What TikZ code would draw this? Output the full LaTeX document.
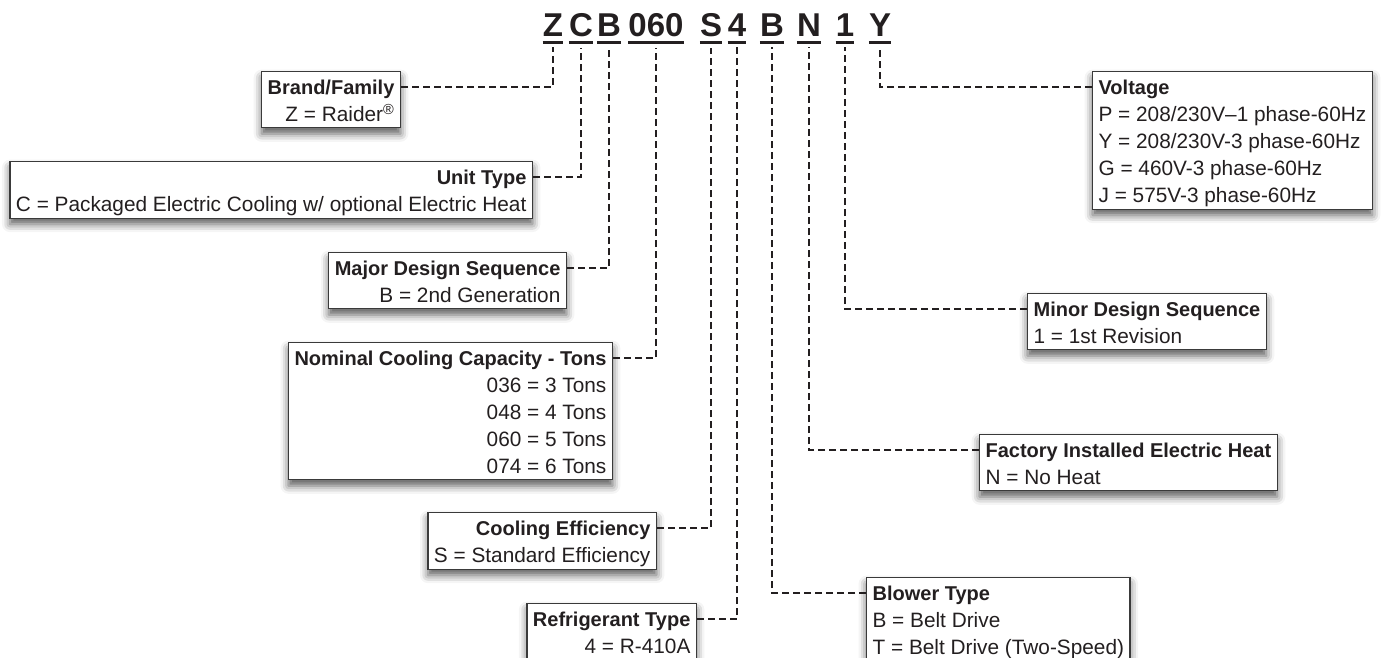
\documentclass[tikz,border=0pt]{standalone}
\usepackage{fontspec}
\setmainfont{Liberation Sans}
\usetikzlibrary{shadows.blur}
\definecolor{ink}{HTML}{231F20}
\definecolor{frame}{HTML}{3A3A3A}
\newcommand\boxhead[1]{\rule{0pt}{21.2pt}{\fontsize{20}{27}\selectfont\bfseries #1}}
\newcommand\boxfoot{\rule[-4pt]{0pt}{4pt}}

\tikzset{
	codechar/.style={font=\fontsize{33}{33}\selectfont\bfseries, text=ink, inner sep=0pt, anchor=base},
	uline/.style={line width=3pt, ink},
	infobox/.style={draw=frame, line width=1.2pt, fill=white, inner xsep=6pt, inner ysep=2pt,
		font=\fontsize{20.8}{27}\selectfont, text=ink,
		blur shadow={shadow xshift=0pt, shadow yshift=-6pt, shadow blur radius=8pt, shadow opacity=65}},
	leftbox/.style={infobox, align=right, anchor=north east},
	rightbox/.style={infobox, align=left, anchor=north west},
	leader/.style={line width=2.4pt, ink, dash pattern=on 7pt off 4pt},
}

\begin{document}
\begin{tikzpicture}[x=1pt, y=-1pt]
	\useasboundingbox (0,0) rectangle (1384,658);

	% model number
	\node[codechar] (cZ) at (553, 37) {Z};
	\node[codechar] (cC) at (581, 37) {C};
	\node[codechar] (cB) at (609, 37) {B};
	\node[codechar] (cTons) at (656, 37) {060};
	\node[codechar] (cS) at (711, 37) {S};
	\node[codechar] (cFour) at (737, 37) {4};
	\node[codechar] (cBlow) at (772, 37) {B};
	\node[codechar] (cN) at (809, 37) {N};
	\node[codechar] (cOne) at (845, 37) {1};
	\node[codechar] (cY) at (880, 37) {Y};
	\foreach \c in {cZ, cC, cB, cTons, cS, cFour, cBlow, cN, cOne, cY}
		\draw[uline] ([yshift=-5pt]\c.south west) -- ([yshift=-5pt]\c.south east);

	% left side
	\node[leftbox] (brand) at (401, 71) {\boxhead{Brand/Family}\\ Z = Raider\textsuperscript{®}\boxfoot};
	\node[leftbox] (unit) at (533, 161) {\boxhead{Unit Type}\\ C = Packaged Electric Cooling w/ optional Electric Heat\boxfoot};
	\node[leftbox] (major) at (567, 252) {\boxhead{Major Design Sequence}\\ B = 2nd Generation\boxfoot};
	\node[leftbox] (tons) at (613, 342) {\boxhead{Nominal Cooling Capacity - Tons}\\ 036 = 3 Tons\\ 048 = 4 Tons\\ 060 = 5 Tons\\ 074 = 6 Tons\boxfoot};
	\node[leftbox] (eff) at (657, 512) {\boxhead{Cooling Efficiency}\\ S = Standard Efficiency\boxfoot};
	\node[leftbox] (refr) at (697, 603) {\boxhead{Refrigerant Type}\\ 4 = R-410A\\ \boxfoot};

	% right side
	\node[rightbox] (volt) at (1092, 71) {\boxhead{Voltage}\\ P = 208/230V–1 phase-60Hz\\ Y = 208/230V-3 phase-60Hz\\ G = 460V-3 phase-60Hz\\ J = 575V-3 phase-60Hz\boxfoot};
	\node[rightbox] (minor) at (1027, 293) {\boxhead{Minor Design Sequence}\\ 1 = 1st Revision\boxfoot};
	\node[rightbox] (heat) at (979, 434) {\boxhead{Factory Installed Electric Heat}\\ N = No Heat\boxfoot};
	\node[rightbox] (blower) at (866, 577) {\boxhead{Blower Type}\\ B = Belt Drive\\ T = Belt Drive (Two-Speed)\\ \boxfoot};

	% leaders
	\draw[leader] ([yshift=-16pt]brand.north east) -| ([yshift=-10pt]cZ.south);
	\draw[leader] ([yshift=-16pt]unit.north east) -| ([yshift=-10pt]cC.south);
	\draw[leader] ([yshift=-16pt]major.north east) -| ([yshift=-10pt]cB.south);
	\draw[leader] ([yshift=-16pt]tons.north east) -| ([yshift=-10pt]cTons.south);
	\draw[leader] ([yshift=-16pt]eff.north east) -| ([yshift=-10pt]cS.south);
	\draw[leader] ([yshift=-16pt]refr.north east) -| ([yshift=-10pt]cFour.south);
	\draw[leader] ([yshift=-16pt]blower.north west) -| ([yshift=-10pt]cBlow.south);
	\draw[leader] ([yshift=-16pt]heat.north west) -| ([yshift=-10pt]cN.south);
	\draw[leader] ([yshift=-16pt]minor.north west) -| ([yshift=-10pt]cOne.south);
	\draw[leader] ([yshift=-16pt]volt.north west) -| ([yshift=-10pt]cY.south);
\end{tikzpicture}
\end{document}
